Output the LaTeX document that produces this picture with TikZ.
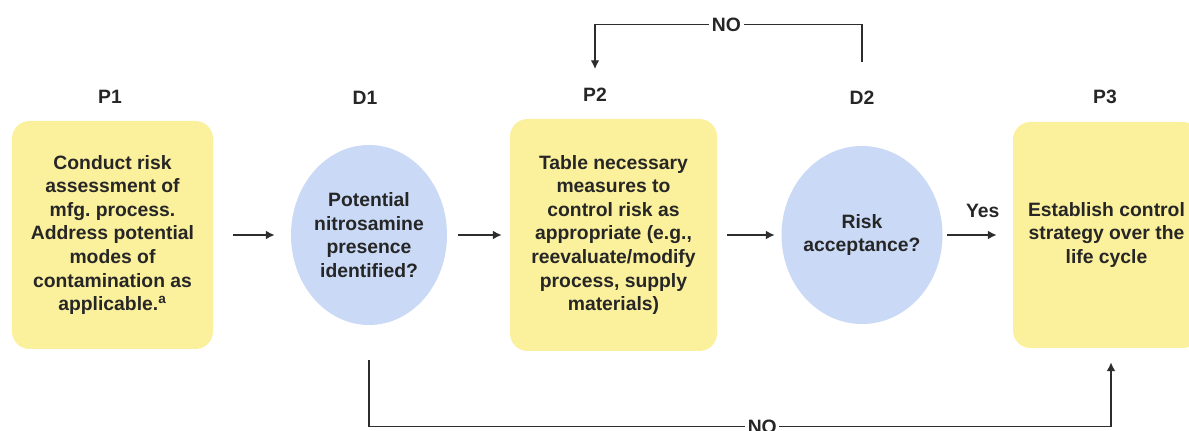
\documentclass[tikz,border=0pt]{standalone}
\usepackage{fontspec}
\setmainfont{Liberation Sans}
\usepackage{xcolor}
\usepackage{tikz}
\usetikzlibrary{shapes.geometric,arrows.meta,positioning,calc}
\definecolor{boxyellow}{RGB}{251,240,155}
\definecolor{decblue}{RGB}{201,217,246}
\definecolor{inkgray}{RGB}{38,38,38}
\definecolor{linegray}{RGB}{45,45,45}
\frenchspacing

\begin{document}
\begin{tikzpicture}[
          font=\fontsize{11}{13.4}\selectfont\bfseries,
          proc/.style={fill=boxyellow,rounded corners=10pt,
                       minimum width=4.02cm,minimum height=4.56cm,
                       align=center,text=inkgray,inner sep=1pt},
          dec/.style={ellipse,fill=decblue,
                      minimum width=3.12cm,minimum height=3.6cm},
          dectext/.style={align=center,text=inkgray,inner sep=1pt},
          tag/.style={text=inkgray},
          flow/.style={-{Latex[length=5pt,width=5pt]},line width=0.8pt,linegray},
          nolbl/.style={fill=white,inner sep=1.5pt,text=inkgray}]
        \useasboundingbox (0,0) rectangle (23.78,8.6);
        \node[proc] (p1) at (2.25,3.9)
          {Conduct risk\\assessment of\\mfg. process.\\Address potential\\modes of\\contamination as\\applicable.\textsuperscript{a}};
        \node[dec] (d1) at (7.38,3.9) {};
        \node[dectext] (d1txt) at (d1) {Potential\\nitrosamine\\presence\\identified?};
        \node[proc,minimum width=4.14cm,minimum height=4.64cm] (p2) at (12.27,3.9)
          {Table necessary\\measures to\\control risk as\\appropriate (e.g.,\\reevaluate/modify\\process, supply\\materials)};
        \node[dec,minimum width=3.22cm,minimum height=3.56cm] (d2) at (17.24,3.9) {};
        \node[dectext] (d2txt) at (d2) {Risk\\acceptance?};
        \node[proc,minimum width=3.74cm,minimum height=4.52cm] (p3) at (22.13,3.9)
          {Establish control\\strategy over the\\life cycle};
        \node[tag] (p1lbl) at (2.2,6.66) {P1};
        \node[tag] (d1lbl) at (7.3,6.64) {D1};
        \node[tag] (p2lbl) at (11.9,6.7) {P2};
        \node[tag] (d2lbl) at (17.24,6.64) {D2};
        \node[tag] (p3lbl) at (22.1,6.66) {P3};
        \draw[flow,shorten <=0.4cm,shorten >=0.32cm] (p1) -- (d1);
        \draw[flow,shorten <=0.22cm,shorten >=0.16cm] (d1) -- (p2);
        \draw[flow,shorten <=0.2cm,shorten >=0.13cm] (p2) -- (d2);
        \draw[flow,shorten <=0.09cm,shorten >=0.32cm] (d2) -- node[tag,above=6pt,xshift=0.1cm] (yes) {Yes} (p3);
        \draw[flow] ([yshift=0.47cm]d2lbl.north) -- ++(0,0.74)
          -| node[nolbl,pos=0.254] (notop) {NO} ([yshift=0.26cm]p2lbl.north);
        \draw[flow] ([yshift=-0.7cm]d1.south) -- ++(0,-1.32)
          -| node[nolbl,pos=0.265] (nobot) {NO} ([xshift=0.09cm,yshift=-0.28cm]p3.south);
      \end{tikzpicture}
\end{document}
